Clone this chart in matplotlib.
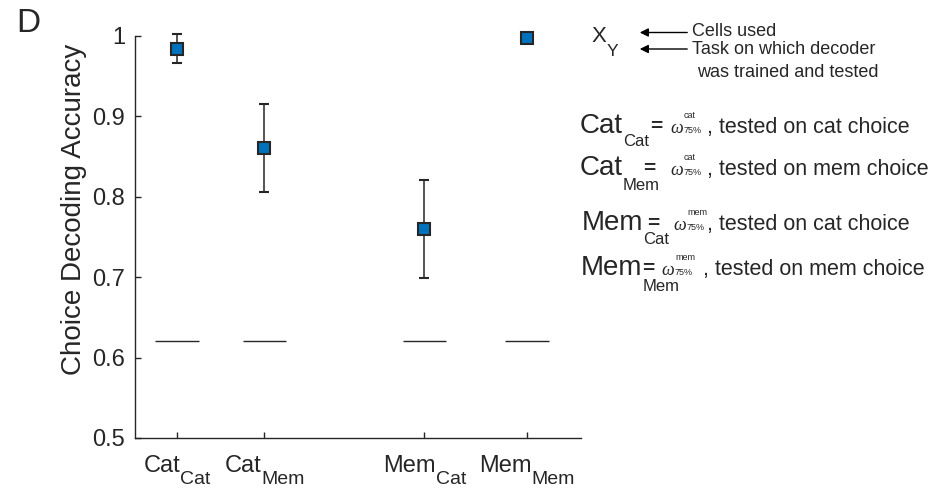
import matplotlib
matplotlib.use("Agg")
import matplotlib.pyplot as plt
import matplotlib.transforms as mtransforms
from matplotlib.patches import FancyArrowPatch

plt.rcParams['font.family'] = ['Liberation Sans', 'DejaVu Sans']

# decoder (cells used) / task it was trained and tested on
cells = ['Cat', 'Cat', 'Mem', 'Mem']
tasks = ['Cat', 'Mem', 'Cat', 'Mem']
x_pos = [1, 2, 3.83, 5]
accuracy = [0.984, 0.861, 0.760, 0.997]
err_low = [0.966, 0.806, 0.699, 0.995]
err_high = [1.003, 0.915, 0.821, 0.999]
chance = [0.621, 0.621, 0.621, 0.621]
y_ticks = [0.5, 0.6, 0.7, 0.8, 0.9, 1.0]
y_tick_labels = ['0.5', '0.6', '0.7', '0.8', '0.9', '1']

# key on the right
weight_sets = ['cat', 'cat', 'mem', 'mem']
notes = [', tested on cat choice', ', tested on mem choice',
         ', tested on cat choice', ', tested on mem choice']

INK = '#262626'
BLUE = '#0072BD'
W, H = 932, 491

fig = plt.figure(figsize=(W / 100, H / 100), dpi=100)
ax = fig.add_axes([135 / W, 1 - 438 / H, 446 / W, 402 / H])

# pixel coords measured from the top-left corner of the figure
TOP = mtransforms.Affine2D().scale(1 / W, -1 / H).translate(0, 1) + fig.transFigure
renderer = fig.canvas.get_renderer()


def pair(x, y, trans, main, sub, size, sub_size, drop, center=False):
    # text with a lowered, smaller subscript straight after it
    t1 = fig.text(x, y, main, fontsize=size, transform=trans,
                  ha='left', va='baseline', color=INK)
    t2 = fig.text(x, y, sub, fontsize=sub_size, transform=trans,
                  ha='left', va='baseline', color=INK)
    w1 = t1.get_window_extent(renderer).width
    w2 = t2.get_window_extent(renderer).width
    x0 = -(w1 + w2) / 2 if center else 0
    t1.set_transform(mtransforms.offset_copy(trans, fig=fig, x=x0, y=0, units='dots'))
    t2.set_transform(mtransforms.offset_copy(trans, fig=fig, x=x0 + w1, y=-drop, units='dots'))
    return t1, t2


# chance level
for x, c in zip(x_pos, chance):
    ax.hlines(c, x - 0.25, x + 0.25, color=INK, lw=1)

yerr = [[a - lo for a, lo in zip(accuracy, err_low)],
        [hi - a for a, hi in zip(accuracy, err_high)]]
ax.errorbar(x_pos, accuracy, yerr=yerr, fmt='s', color=INK, ecolor=INK,
            elinewidth=1.1, capsize=3.6, capthick=1.1,
            mfc=BLUE, mec=INK, ms=8.5, mew=1.5, clip_on=False, zorder=3)

ax.set_xlim(0.52, 5.62)
ax.set_ylim(0.5, 1.0)
ax.set_yticks(y_ticks)
ax.set_yticklabels(y_tick_labels)
ax.set_xticks(x_pos)
ax.set_xticklabels([])
ax.tick_params(direction='in', length=4, width=1, color=INK, labelcolor=INK,
               labelsize=17, pad=7)
for side in ['top', 'right']:
    ax.spines[side].set_visible(False)
for side in ['left', 'bottom']:
    ax.spines[side].set_color(INK)
    ax.spines[side].set_linewidth(1)

ax.set_ylabel('Choice Decoding Accuracy', fontsize=20, color=INK, va='center')
ax.yaxis.set_label_coords((74 - 135) / 446, (438 - 209) / 402)

# category labels under the axis
xt = ax.get_xaxis_transform()
for x, c, t in zip(x_pos, cells, tasks):
    pair(x, (438 - 472) / 402, xt, c, t, 17, 14, 12, center=True)

fig.text(16, 32, 'D', transform=TOP, fontsize=24, color=INK, va='baseline')

# X_Y key
pair(592, 42, TOP, 'X', 'Y', 16, 12.5, 14)
for y in [32.5, 49]:
    fig.add_artist(FancyArrowPatch((690, y), (637, y), transform=TOP,
                                   arrowstyle='-|>,head_length=0.5,head_width=0.25',
                                   mutation_scale=10, lw=1, color='black'))
fig.text(692, 36, 'Cells used', transform=TOP, fontsize=13, color=INK, va='baseline')
fig.text(692, 54, 'Task on which decoder', transform=TOP, fontsize=13, color=INK, va='baseline')
fig.text(697, 77, 'was trained and tested', transform=TOP, fontsize=13, color=INK, va='baseline')

baselines = [133, 175, 230, 275]
drops = [13, 15, 14, 16]
main_x = [580, 580, 582, 581]
eq_x = [650, 643, 647, 642]
omega_x = [670, 670, 673, 661]
note_x = [707, 707, 707, 703]
for i in range(4):
    b = baselines[i]
    pair(main_x[i], b, TOP, cells[i], tasks[i], 20, 12, drops[i])
    fig.text(eq_x[i], b - 1, '=', transform=TOP, fontsize=15, fontweight='bold',
             color=INK, va='baseline')
    fig.text(omega_x[i], b, 'ω', transform=TOP, fontsize=13, family='Liberation Serif',
             style='italic', color=INK, va='baseline')
    fig.text(omega_x[i] + 14, b - 15, weight_sets[i], transform=TOP, fontsize=6.5,
             color=INK, va='baseline')
    fig.text(omega_x[i] + 14, b, '75%', transform=TOP, fontsize=6.5,
             color=INK, va='baseline')
    fig.text(note_x[i], b, notes[i], transform=TOP, fontsize=15.5,
             color=INK, va='baseline')

fig.savefig('out.png', dpi=100)
